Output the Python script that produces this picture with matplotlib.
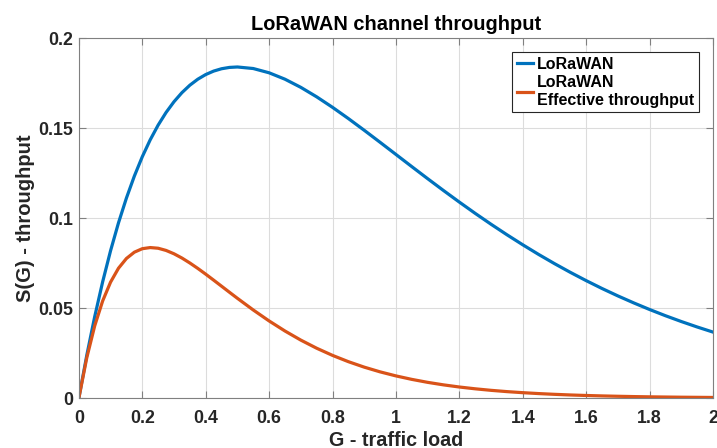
import matplotlib
matplotlib.use("Agg")
import matplotlib.pyplot as plt

plt.rcParams['font.family'] = ['Liberation Sans', 'DejaVu Sans']

G = [0, 0.025, 0.05, 0.075, 0.1, 0.125, 0.15, 0.175, 0.2, 0.225, 0.25, 0.275, 0.3,
     0.325, 0.35, 0.375, 0.4, 0.425, 0.45, 0.475, 0.5, 0.55, 0.6, 0.65, 0.7, 0.75,
     0.8, 0.85, 0.9, 0.95, 1.0, 1.05, 1.1, 1.15, 1.2, 1.25, 1.3, 1.35, 1.4, 1.45,
     1.5, 1.55, 1.6, 1.65, 1.7, 1.75, 1.8, 1.85, 1.9, 1.95, 2.0]
lorawan = [0, 0.02378, 0.04524, 0.06455, 0.08187, 0.09735, 0.11112, 0.12332, 0.13406,
           0.14347, 0.15163, 0.15866, 0.16464, 0.16967, 0.17381, 0.17714, 0.17973,
           0.18165, 0.18296, 0.18370, 0.18394, 0.18308, 0.18071, 0.17715, 0.17262,
           0.16735, 0.16152, 0.15528, 0.14877, 0.14209, 0.13534, 0.12858, 0.12188,
           0.11530, 0.10886, 0.10260, 0.09655, 0.09073, 0.08514, 0.07978, 0.07468,
           0.06983, 0.06522, 0.06085, 0.05673, 0.05285, 0.04918, 0.04573, 0.04250,
           0.03947, 0.03663]
effective = [0, 0.02240, 0.04013, 0.05392, 0.06440, 0.07212, 0.07753, 0.08103, 0.08296,
             0.08360, 0.08322, 0.08200, 0.08014, 0.07778, 0.07503, 0.07202, 0.06882,
             0.06550, 0.06213, 0.05875, 0.05540, 0.04891, 0.04282, 0.03723, 0.03217,
             0.02766, 0.02368, 0.02019, 0.01715, 0.01453, 0.01228, 0.01035, 0.00870,
             0.00730, 0.00611, 0.00511, 0.00426, 0.00355, 0.00296, 0.00246, 0.00204,
             0.00169, 0.00140, 0.00116, 0.00096, 0.00079, 0.00065, 0.00054, 0.00044,
             0.00037, 0.00030]

xticks = [0, 0.2, 0.4, 0.6, 0.8, 1, 1.2, 1.4, 1.6, 1.8, 2]
xticklabels = ["0", "0.2", "0.4", "0.6", "0.8", "1", "1.2", "1.4", "1.6", "1.8", "2"]
yticks = [0, 0.05, 0.1, 0.15, 0.2]
yticklabels = ["0", "0.05", "0.1", "0.15", "0.2"]

fig = plt.figure(figsize=(7.17, 4.48), dpi=100)
ax = fig.add_axes([0.110, 0.1116, 0.8844, 0.8034])

ax.plot(G, lorawan, color='#0072BD', lw=2.3, label='LoRaWAN')
ax.plot(G, effective, color='#D95319', lw=2.3, label='LoRaWAN\nEffective throughput')

ax.set_xlim(0, 2)
ax.set_ylim(0, 0.2)
ax.set_xticks(xticks)
ax.set_xticklabels(xticklabels)
ax.set_yticks(yticks)
ax.set_yticklabels(yticklabels)
ax.grid(True, color='#dcdcdc', lw=0.8)
ax.set_axisbelow(True)
ax.tick_params(direction='in', top=True, right=True, length=5, width=0.8,
               color='#808080', labelcolor='#262626', labelsize=12.8)
ax.tick_params(axis='x', pad=8.3)
ax.tick_params(axis='y', pad=4)
for lab in ax.get_xticklabels() + ax.get_yticklabels():
    lab.set_fontweight('bold')
for s in ax.spines.values():
    s.set_color('#808080')
    s.set_linewidth(0.8)

ax.set_title('LoRaWAN channel throughput', fontsize=14.4, fontweight='bold',
             color='black', pad=6)
ax.set_xlabel('G - traffic load', fontsize=14.2, fontweight='bold', color='#262626', labelpad=3)
ax.set_ylabel('S(G) - throughput', fontsize=14.5, fontweight='bold', color='#262626', labelpad=2.5)

leg = ax.legend(loc='upper right', bbox_to_anchor=(0.978, 0.961), borderaxespad=0,
                fancybox=False, edgecolor='#262626', framealpha=1, handlelength=1.0,
                handletextpad=0.25, borderpad=0.3, labelspacing=0.2,
                prop={'weight': 'bold', 'size': 11.5})
leg.get_frame().set_linewidth(0.8)

fig.savefig('out.png', dpi=100)
